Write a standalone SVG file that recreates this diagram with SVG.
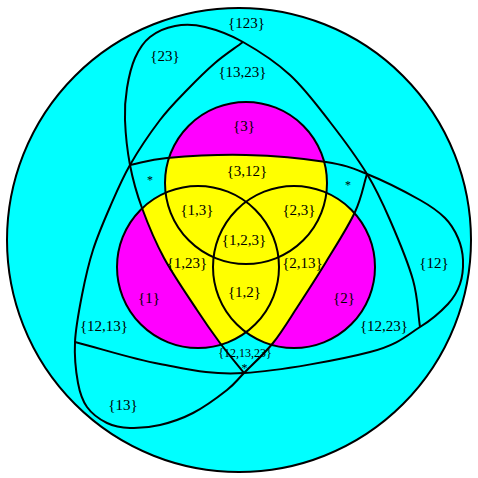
<svg xmlns="http://www.w3.org/2000/svg" width="478" height="478" viewBox="0 0 478 478">
<style>
.ln{fill:none;stroke:#000;stroke-width:2}
.mag{fill:#ff00ff}
.yel{fill:#ffff00}
text{font-family:"Liberation Serif","Times New Roman",serif;font-size:15px;fill:#000;text-anchor:middle}
.sm{font-size:12px}
</style>
<defs>
<clipPath id="clipT">
<path d="M130,165 C142.3,162.7 147.7,159.7 167,158 C186.3,156.3 219.5,154.3 246,155 C272.5,155.7 305.8,158.8 326,162 C346.2,165.2 351.3,167.7 367,174 C363,186.7 361.8,197.3 355,212 C348.2,226.7 335.5,246.3 326,262 C316.5,277.7 306.8,292.5 298,306 C289.2,319.5 282,331.8 273,343 C264,354.2 251.7,365.2 244,373 C236,363 227.8,353.5 220,343 C212.2,332.5 206.3,324.2 197,310 C187.7,295.8 173.2,275 164,258 C154.8,241 147.7,223.5 142,208 C136.3,192.5 132.8,179.7 130,165 Z"/>
</clipPath>
</defs>
<rect width="478" height="478" fill="#fff"/>
<g id="outer">
<circle cx="239" cy="240" r="232" fill="#00ffff" stroke="#000" stroke-width="2"/>
</g>
<g id="fills">
<circle class="mag" cx="198" cy="267" r="81"/>
<circle class="mag" cx="294" cy="267" r="81"/>
<circle class="mag" cx="246" cy="183" r="81"/>
<g clip-path="url(#clipT)">
<circle class="yel" cx="198" cy="267" r="81"/>
<circle class="yel" cx="294" cy="267" r="81"/>
<circle class="yel" cx="246" cy="183" r="81"/>
</g>
</g>
<g id="set-1"><circle class="ln" cx="198" cy="267" r="81"/></g>
<g id="set-2"><circle class="ln" cx="294" cy="267" r="81"/></g>
<g id="set-3"><circle class="ln" cx="246" cy="183" r="81"/></g>
<g id="curves">
<path id="curve-12" class="ln" d="M130,165 C142.3,162.7 147.7,159.7 167,158 C186.3,156.3 219.5,154.3 246,155 C272.5,155.7 305.8,158.8 326,162 C346.2,165.2 351.3,167.7 367,174 C382.7,180.3 407,192.7 420,200 C433,207.3 438.7,211.7 445,218 C451.3,224.3 455,231 458,238 C461,245 462.7,252.3 463,260 C463.3,267.7 462.5,276.7 460,284 C457.5,291.3 454.7,296.8 448,304 C441.3,311.2 433,319 420,327 C407,335 399.3,344.3 370,352 C340.7,359.7 279,371 244,373 C209,375 188.2,369.2 160,364 C131.8,358.8 103.3,349.3 75,342"/>
<path id="curve-23" class="ln" d="M244,373 C236,363 227.8,353.5 220,343 C212.2,332.5 206.3,324.2 197,310 C187.7,295.8 173.2,275 164,258 C154.8,241 147.7,223.5 142,208 C136.3,192.5 132.8,179.7 130,165 C127.2,150.3 125.5,132.8 125,120 C124.5,107.2 125.3,98.3 127,88 C128.7,77.7 131.2,66.5 135,58 C138.8,49.5 143.3,42.3 150,37 C156.7,31.7 165.8,27.7 175,26 C184.2,24.3 193.7,24.3 205,27 C216.3,29.7 228.8,34 243,42 C257.2,50 275.5,61.7 290,75 C304.5,88.3 317.2,105.5 330,122 C342.8,138.5 357,157.7 367,174 C377,190.3 382.3,202.3 390,220 C397.7,237.7 408,262.2 413,280 C418,297.8 417.7,311.3 420,327"/>
<path id="curve-13" class="ln" d="M367,174 C363,186.7 361.8,197.3 355,212 C348.2,226.7 335.5,246.3 326,262 C316.5,277.7 306.8,292.5 298,306 C289.2,319.5 282,331.8 273,343 C264,354.2 251.7,365.2 244,373 C236.3,380.8 235.5,383.3 227,390 C218.5,396.7 204.2,407.2 193,413 C181.8,418.8 170.5,422.5 160,425 C149.5,427.5 138.8,428.3 130,428 C121.2,427.7 114.2,426.5 107,423 C99.8,419.5 91.8,413.7 87,407 C82.2,400.3 80,393.8 78,383 C76,372.2 74.3,356.7 75,342 C75.7,327.3 79,310.3 82,295 C85,279.7 88.3,264.7 93,250 C97.7,235.3 103.8,221.2 110,207 C116.2,192.8 121.7,179.5 130,165 C138.3,150.5 150.5,132.5 160,120 C169.5,107.5 177.8,99.5 187,90 C196.2,80.5 205.7,71 215,63 C224.3,55 233.7,49 243,42"/>
</g>
<g id="labels">
<text x="246.5" y="28">{123}</text>
<text x="165" y="61">{23}</text>
<text x="242.5" y="77">{13,23}</text>
<text x="244" y="131">{3}</text>
<text x="247" y="176">{3,12}</text>
<text x="197" y="215">{1,3}</text>
<text x="299" y="215">{2,3}</text>
<text x="244" y="245">{1,2,3}</text>
<text x="187" y="268">{1,23}</text>
<text x="302.5" y="268">{2,13}</text>
<text x="434" y="268">{12}</text>
<text x="149" y="303">{1}</text>
<text x="244.5" y="297">{1,2}</text>
<text x="344" y="303">{2}</text>
<text x="104" y="331">{12,13}</text>
<text x="384" y="331">{12,23}</text>
<text class="sm" x="245" y="356.5">{12,13,23}</text>
<text class="sm" x="150" y="184">*</text>
<text class="sm" x="348" y="189">*</text>
<text class="sm" x="244.5" y="372">*</text>
<text x="123" y="410">{13}</text>
</g>
</svg>
